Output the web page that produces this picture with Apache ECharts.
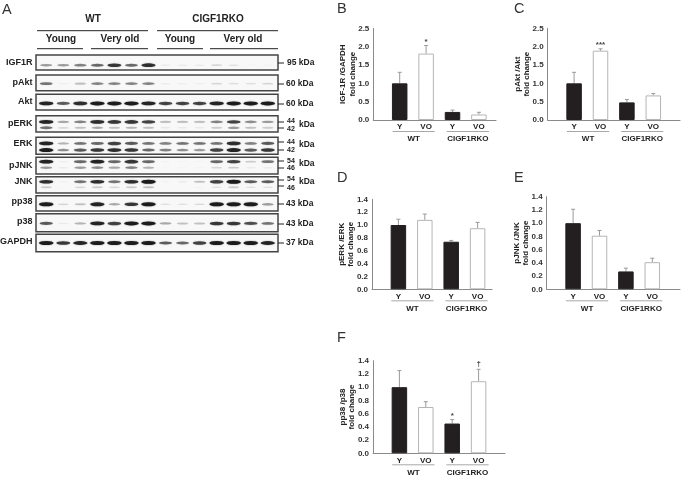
<!DOCTYPE html>
<html><head><meta charset="utf-8">
<style>html,body{margin:0;padding:0;background:#fff}#c{width:691px;height:478px}</style>
<script src="https://cdn.jsdelivr.net/npm/echarts@6/dist/echarts.min.js"></script>
</head><body><div id="c"></div>
<script>
// ---------- bar chart data ----------
const categories = ['Y', 'VO', 'Y', 'VO'];
const groupNames = ['WT', 'CIGF1RKO'];

const igf1rValues = [1.0, 1.81, 0.22, 0.15];
const igf1rErrTop = [1.3, 2.03, 0.27, 0.21];
const igf1rMarks  = ['', '*', '', ''];

const paktValues = [1.0, 1.89, 0.48, 0.67];
const paktErrTop = [1.3, 1.94, 0.56, 0.72];
const paktMarks  = ['', '***', '', ''];

const perkValues = [1.0, 1.08, 0.74, 0.95];
const perkErrTop = [1.09, 1.17, 0.76, 1.04];
const perkMarks  = ['', '', '', ''];

const pjnkValues = [1.0, 0.81, 0.27, 0.41];
const pjnkErrTop = [1.21, 0.89, 0.32, 0.47];
const pjnkMarks  = ['', '', '', ''];

const pp38Values = [1.0, 0.70, 0.45, 1.09];
const pp38ErrTop = [1.25, 0.78, 0.51, 1.27];
const pp38Marks  = ['', '', '*', '\u2020'];

// ---------- blot band intensities, one value per lane ----------
const blotIGF1R = [.45,.45,.55,.65,.85,.65,.9,.1,.1,.1,.2,.15,.03,.05];
const blotPAkt  = [.6,.08,.3,.55,.55,.55,.55,.1,.08,.08,.2,.15,.15,.2];
const blotAkt   = [.95,.7,.9,1,1,1,.95,.8,.8,.8,.95,1,1,1];
const blotPERK44 = [.95,.4,.55,.9,.85,.85,.8,.3,.3,.3,.55,.8,.5,.45];
const blotPERK42 = [.6,.2,.3,.4,.3,.35,.3,.12,.12,.12,.25,.45,.3,.25];
const blotERK44 = [.95,.35,.6,.65,.8,.7,.6,.55,.6,.6,.6,.9,.55,.7];
const blotERK42 = [1,.5,.7,.85,.9,.85,.65,.55,.5,.45,.8,.95,.7,.85];
const blotPJNK54 = [.95,.08,.65,.95,.65,.85,.65,.05,.04,.04,.65,.8,.25,.6];
const blotPJNK46 = [.45,.1,.45,.5,.4,.55,.35,.03,.03,.03,.2,.25,.1,.1];
const blotJNK54 = [.9,.05,.6,.9,.6,.9,1,.05,.1,.3,.8,1,.7,.7];
const blotJNK46 = [.25,.03,.2,.25,.2,.25,.3,.02,.02,.05,.15,.25,.15,.15];
const blotPP38 = [1,.2,.3,.95,.4,.85,1,.15,.15,.18,1,1,1,.45];
const blotP38  = [.7,.1,.35,.95,.8,1,1,.4,.3,.3,.85,.85,.75,.6];
const blotGAPDH = [1,.85,.95,1,1,1,1,.7,.65,.8,1,1,1,.95];

// ---------- layout ----------
const FONT = '"Liberation Sans", Arial, sans-serif';
const panels = [
  {letter:'B', lx:337, ly:9,   x0:373.3, x1:496, top:28.3, bottom:120,  max:2.5, step:.5, name:'IGF-1R /GAPDH\nfold change', v:igf1rValues, e:igf1rErrTop, m:igf1rMarks},
  {letter:'C', lx:514, ly:9,   x0:547.7, x1:680, top:28.3, bottom:120,  max:2.5, step:.5, name:'pAkt /Akt\nfold change', v:paktValues, e:paktErrTop, m:paktMarks},
  {letter:'D', lx:337, ly:178, x0:372,   x1:492, top:199.3,bottom:289.3,max:1.4, step:.2, name:'pERK /ERK\nfold change', v:perkValues, e:perkErrTop, m:perkMarks},
  {letter:'E', lx:514, ly:178, x0:546.7, x1:680, top:196.7,bottom:289.3,max:1.4, step:.2, name:'pJNK /JNK\nfold change', v:pjnkValues, e:pjnkErrTop, m:pjnkMarks},
  {letter:'F', lx:337, ly:338, x0:373,   x1:505, top:360.7,bottom:453.3,max:1.4, step:.2, name:'pp38 /p38\nfold change', v:pp38Values, e:pp38ErrTop, m:pp38Marks}
];
const blots = [
  {name:'IGF1R', top:55,    bottom:70,    ly:63,  bands:[[.68, blotIGF1R]]},
  {name:'pAkt',  top:75,    bottom:90.7,  ly:83,  bands:[[.55, blotPAkt]]},
  {name:'Akt',   top:94.3,  bottom:110,   ly:102, bands:[[.58, blotAkt]]},
  {name:'pERK',  top:115.7, bottom:132,   ly:124, bands:[[.38, blotPERK44],[.74, blotPERK42]]},
  {name:'ERK',   top:137.3, bottom:154.3, ly:144, bands:[[.36, blotERK44],[.75, blotERK42]]},
  {name:'pJNK',  top:157.3, bottom:174,   ly:166, bands:[[.26, blotPJNK54],[.62, blotPJNK46]]},
  {name:'JNK',   top:176.7, bottom:193,   ly:182, bands:[[.31, blotJNK54],[.65, blotJNK46]]},
  {name:'pp38',  top:195.7, bottom:211,   ly:202, bands:[[.56, blotPP38]]},
  {name:'p38',   top:213.7, bottom:231.7, ly:222, bands:[[.54, blotP38]]},
  {name:'GAPDH', top:234.3, bottom:251.7, ly:242, bands:[[.5, blotGAPDH]]}
];
const kdaLabels = [
  {t:'95 kDa', x:287, y:63, tick:63},
  {t:'60 kDa', x:286, y:84, tick:84},
  {t:'60 kDa', x:286, y:104, tick:104},
  {t:'44', x:287, y:121.5, tick:122, small:1},{t:'42', x:287, y:129, tick:128, small:1},{t:'kDa', x:299, y:125},
  {t:'44', x:287, y:142, tick:142, small:1},{t:'42', x:287, y:150, tick:150, small:1},{t:'kDa', x:299, y:145},
  {t:'54', x:287, y:161, tick:161, small:1},{t:'46', x:287, y:168, tick:168, small:1},{t:'kDa', x:299, y:164},
  {t:'54', x:287, y:179.5, tick:180, small:1},{t:'46', x:287, y:188, tick:186, small:1},{t:'kDa', x:299, y:182},
  {t:'43 kDa', x:286, y:204, tick:204},
  {t:'43 kDa', x:286, y:224, tick:224},
  {t:'37 kDa', x:286, y:243, tick:243}
];
const headers = [
  {t:'WT', x:93, y:19, l:37, r:148, ly:30.7},
  {t:'CIGF1RKO', x:218, y:19, l:157, r:278, ly:30.7},
  {t:'Young', x:61, y:39.5, l:37, r:83, ly:48.7},
  {t:'Very old', x:120, y:39.5, l:91, r:148, ly:48.7},
  {t:'Young', x:180, y:39.5, l:157, r:203, ly:48.7},
  {t:'Very old', x:243, y:39.5, l:210, r:278, ly:48.7}
];

const grids = [], xAxes = [], yAxes = [], series = [], graphic = [];
const step = 26.4;

// blots
blots.forEach((b, idx) => {
  grids.push({left:36, width:242, top:b.top, height:b.bottom-b.top, show:true,
    backgroundColor:'#f8f8f8', borderColor:'#444', borderWidth:1.5});
  xAxes.push({gridIndex:idx, type:'value', min:-0.6, max:13.6, show:false});
  yAxes.push({gridIndex:idx, type:'value', min:0, max:1, inverse:true, show:false});
  b.bands.forEach(([pos, vals]) => {
    series.push({type:'scatter', xAxisIndex:idx, yAxisIndex:idx, silent:true, symbol:'circle',
      data: vals.map((v,i)=>({value:[i,pos],
        symbolSize:[10+4.5*v, 1.2+2.8*v],
        itemStyle:{color:'#151515', opacity:Math.pow(v,1.2)*0.95, shadowBlur:1.5, shadowColor:'rgba(0,0,0,'+(0.5*v)+')'}}))});
  });
  graphic.push({type:'text', x:32.5, y:b.ly, style:{text:b.name, font:'bold 9px '+FONT, fill:'#222', align:'right', verticalAlign:'middle'}});
});

// bar panels
panels.forEach((p, n) => {
  const g = blots.length + n;
  grids.push({left:p.x0, top:p.top, width:p.x1-p.x0, height:p.bottom-p.top});
  xAxes.push({gridIndex:g, type:'value', min:0, max:(p.x1-p.x0)/step, interval:1,
    axisLine:{show:true, onZero:false, lineStyle:{color:'#8a8a8a', width:1}}, axisTick:{show:false}, splitLine:{show:false},
    axisLabel:{color:'#222', fontFamily:FONT, fontWeight:'bold', fontSize:8, margin:3,
      showMinLabel:true, showMaxLabel:true,
      formatter:v=>categories[v-1] && Number.isInteger(v) ? categories[v-1] : ''}});
  yAxes.push({gridIndex:g, type:'value', min:0, max:p.max, interval:p.step,
    axisLine:{show:true, lineStyle:{color:'#8a8a8a', width:1}}, axisTick:{show:false},
    splitLine:{show:false},
    axisLabel:{color:'#333', fontFamily:FONT, fontWeight:'bold', fontSize:8, margin:4, formatter:v=>v.toFixed(1)},
    name:p.name, nameLocation:'middle', nameGap:16, nameRotate:90, nameMoveOverlap:false,
    nameTextStyle:{color:'#222', fontFamily:FONT, fontSize:8, fontWeight:'bold', lineHeight:9.5}});
  series.push({type:'bar', xAxisIndex:g, yAxisIndex:g, barWidth:15.5, silent:true,
    data:p.v.map((v,i)=>({value:[i+1,v], itemStyle:i%2===0
      ? {color:'#231f20', borderColor:'#231f20', borderWidth:1}
      : {color:'#fff', borderColor:'#b5b5b5', borderWidth:1}}))});
  series.push({type:'custom', xAxisIndex:g, yAxisIndex:g, silent:true, clip:false, z:1,
    data:p.e.map((e,i)=>[i+1,p.v[i],e,p.m[i]]),
    renderItem:(params,api)=>{
      const base=api.coord([api.value(0),api.value(1)]), top=api.coord([api.value(0),api.value(2)]);
      const mark=p.m[params.dataIndex];
      const kids=[
        {type:'line',shape:{x1:base[0],y1:base[1],x2:base[0],y2:top[1]},style:{stroke:'#9a9a9a',lineWidth:1}},
        {type:'line',shape:{x1:base[0]-2,y1:top[1],x2:base[0]+2,y2:top[1]},style:{stroke:'#9a9a9a',lineWidth:1}}];
      if(mark) kids.push({type:'text',x:base[0],y:top[1]-(mark==='\u2020'?2:0),
        style:{text:mark,font:'bold 8px '+FONT,fill:'#444',align:'center',verticalAlign:'bottom'}});
      return {type:'group',children:kids};
    }});
  // group labels drawn in data coordinates along the x scale
  series.push({type:'custom', xAxisIndex:g, yAxisIndex:g, silent:true, clip:false,
    data:[[0.73,2.33,0],[2.78,4.38,1]],
    renderItem:(params,api)=>{
      const a=api.coord([api.value(0),0]), b=api.coord([api.value(1),0]);
      const nm=groupNames[api.value(2)];
      return {type:'group',children:[
        {type:'line',shape:{x1:a[0],y1:a[1]+11.5,x2:b[0],y2:a[1]+11.5},style:{stroke:'#a8a8a8',lineWidth:1}},
        {type:'text',x:(a[0]+b[0])/2,y:a[1]+19,style:{text:nm,font:'bold 8px '+FONT,fill:'#222',align:'center',verticalAlign:'middle'}}]};
    }});
  graphic.push({type:'text', x:p.lx, y:p.ly, style:{text:p.letter, font:'14.5px '+FONT, fill:'#333', verticalAlign:'middle'}});
});

graphic.push({type:'text', x:2, y:10, style:{text:'A', font:'14.5px '+FONT, fill:'#333', verticalAlign:'middle'}});
headers.forEach(h=>{
  graphic.push({type:'text', x:h.x, y:h.y, style:{text:h.t, font:'bold 10px '+FONT, fill:'#222', align:'center', verticalAlign:'middle'}});
  graphic.push({type:'line', shape:{x1:h.l,y1:h.ly,x2:h.r,y2:h.ly}, style:{stroke:'#222',lineWidth:1}});
});
kdaLabels.forEach(k=>{
  graphic.push({type:'text', x:k.x, y:k.y, style:{text:k.t, font:(k.small?'bold 7px ':'bold 8.5px ')+FONT, fill:'#222', verticalAlign:'middle'}});
  if(k.tick!==undefined) graphic.push({type:'line', shape:{x1:278,y1:k.tick,x2:284,y2:k.tick}, style:{stroke:'#222',lineWidth:1}});
});

const chart = echarts.init(document.getElementById('c'));
chart.setOption({animation:false, backgroundColor:'#fff', textStyle:{fontFamily:FONT},
  grid:grids, xAxis:xAxes, yAxis:yAxes, series, graphic});
</script></body></html>
